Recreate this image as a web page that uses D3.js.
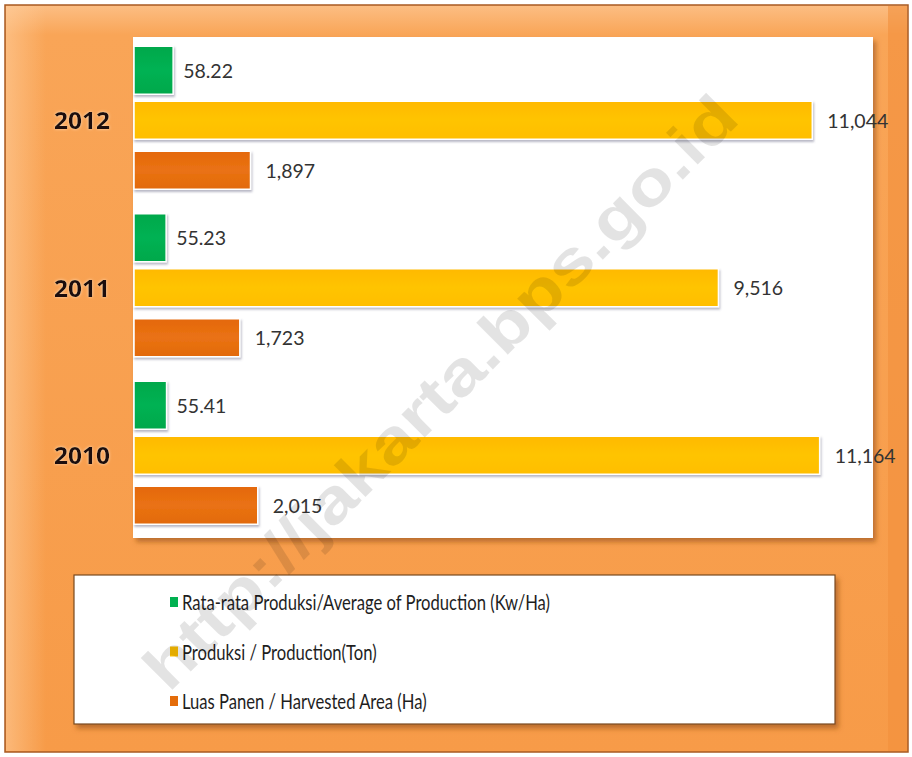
<!DOCTYPE html>
<html>
<head>
<meta charset="utf-8">
<script src="https://cdn.jsdelivr.net/npm/d3@7"></script>
<style>
  html, body { margin: 0; padding: 0; background: #ffffff; }
  svg { display: block; }
</style>
</head>
<body>
<svg id="chart" width="912" height="757"></svg>
<script>
// ---- data ----
const years = ["2012", "2011", "2010"];
const seriesKeys = ["avg", "prod", "area"];
const seriesNames = [
  "Rata-rata Produksi/Average of Production (Kw/Ha)",
  "Produksi / Production(Ton)",
  "Luas Panen / Harvested Area (Ha)"
];
const avgValues = [58.22, 55.23, 55.41];      // Kw/Ha (secondary scale)
const prodValues = [11044, 9516, 11164];      // Ton
const areaValues = [1897, 1723, 2015];        // Ha
const labelFormats = [d3.format(".2f"), d3.format(","), d3.format(",")];
const watermark = "http://jakarta.bps.go.id";

// ---- styles ----
const colors = { avg: "#00B050", prod: "#FFC000", area: "#E46C0A" };
const font = "Lato, 'Open Sans', 'DejaVu Sans', sans-serif";

const svg = d3.select("#chart");
const defs = svg.append("defs");

// gradients
const bg = defs.append("linearGradient").attr("id", "bgGrad").attr("x1", 0).attr("y1", 0).attr("x2", 0).attr("y2", 1);
bg.append("stop").attr("offset", "0%").attr("stop-color", "#FCBE84");
bg.append("stop").attr("offset", "4%").attr("stop-color", "#F9A557");
bg.append("stop").attr("offset", "100%").attr("stop-color", "#F79B48");

const bgL = defs.append("linearGradient").attr("id", "bgLeft").attr("x1", 0).attr("y1", 0).attr("x2", 1).attr("y2", 0);
bgL.append("stop").attr("offset", "0%").attr("stop-color", "#FFD0A0").attr("stop-opacity", 0.55);
bgL.append("stop").attr("offset", "100%").attr("stop-color", "#FFD0A0").attr("stop-opacity", 0);

function barGrad(id, c1, c2, c3) {
  const g = defs.append("linearGradient").attr("id", id).attr("x1", 0).attr("y1", 0).attr("x2", 0).attr("y2", 1);
  g.append("stop").attr("offset", "0%").attr("stop-color", c1);
  g.append("stop").attr("offset", "50%").attr("stop-color", c2);
  g.append("stop").attr("offset", "100%").attr("stop-color", c3);
}
barGrad("g_avg", "#00A84B", "#00B253", "#00A84B");
barGrad("g_prod", "#FFB900", "#FFC400", "#FFBE00");
barGrad("g_area", "#E4680A", "#EA7214", "#E26A08");

const shadow = defs.append("filter").attr("id", "shadow").attr("x", "-10%").attr("y", "-20%").attr("width", "130%").attr("height", "160%");
shadow.append("feDropShadow").attr("dx", 1).attr("dy", 2).attr("stdDeviation", 1.2).attr("flood-color", "#606080").attr("flood-opacity", 0.45);

const boxShadow = defs.append("filter").attr("id", "boxShadow").attr("x", "-5%").attr("y", "-5%").attr("width", "115%").attr("height", "115%");
boxShadow.append("feDropShadow").attr("dx", 3).attr("dy", 4).attr("stdDeviation", 2.5).attr("flood-color", "#8a4a10").attr("flood-opacity", 0.55);

const glow = defs.append("filter").attr("id", "glow").attr("x", "-20%").attr("y", "-30%").attr("width", "140%").attr("height", "160%");
glow.append("feGaussianBlur").attr("in", "SourceAlpha").attr("stdDeviation", 1.5).attr("result", "b");
glow.append("feFlood").attr("flood-color", "#FFE0C0").attr("flood-opacity", 0.9);
glow.append("feComposite").attr("in2", "b").attr("operator", "in").attr("result", "g");
const gm = glow.append("feMerge");
gm.append("feMergeNode").attr("in", "g");
gm.append("feMergeNode").attr("in", "SourceGraphic");

// ---- frame ----
svg.append("rect").attr("x", 5).attr("y", 5).attr("width", 903).attr("height", 747)
  .attr("fill", "url(#bgGrad)").attr("stroke", "#A85A22").attr("stroke-width", 1.5);
svg.append("rect").attr("x", 6).attr("y", 6).attr("width", 40).attr("height", 745).attr("fill", "url(#bgLeft)");
svg.append("rect").attr("x", 888).attr("y", 6).attr("width", 19).attr("height", 745).attr("fill", "#F28F3C").attr("opacity", 0.6);

// ---- plot area ----
const plot = { left: 133, right: 873, top: 37, bottom: 538 };
svg.append("rect").attr("x", plot.left).attr("y", plot.top)
  .attr("width", plot.right - plot.left).attr("height", plot.bottom - plot.top)
  .attr("fill", "#FFFFFF").attr("filter", "url(#boxShadow)");

// ---- scales ----
const x = d3.scaleLinear().domain([0, 12000]).range([134, 871]);
const xAvg = d3.scaleLinear().domain([41.5, 60]).range([134, 177.3]);
const y0 = d3.scaleBand().domain(years).range([36.5, 539]).paddingInner(0);
const y1 = d3.scaleBand().domain(seriesKeys).range([-69, 69]).paddingInner(0.24);

const rows = years.map((yr, i) => ({
  year: yr,
  values: [
    { key: "avg", v: avgValues[i], fmt: labelFormats[0], sx: xAvg, base: 41.5, extra: 10 },
    { key: "prod", v: prodValues[i], fmt: labelFormats[1], sx: x, base: 0, extra: 0 },
    { key: "area", v: areaValues[i], fmt: labelFormats[2], sx: x, base: 0, extra: 0 }
  ]
}));

const groups = svg.append("g").selectAll("g.grp").data(rows).join("g")
  .attr("class", "grp")
  .attr("transform", d => `translate(0,${y0(d.year) + y0.bandwidth() / 2})`);

groups.selectAll("rect.bar").data(d => d.values).join("rect")
  .attr("class", "bar")
  .attr("x", d => d.sx(d.base))
  .attr("y", d => y1(d.key) - d.extra / 2)
  .attr("width", d => d.sx(d.v) - d.sx(d.base))
  .attr("height", d => y1.bandwidth() + d.extra)
  .attr("fill", d => `url(#g_${d.key})`)
  .attr("stroke", "#FFFFFF").attr("stroke-width", 1.5)
  .attr("filter", "url(#shadow)");

groups.selectAll("text.lbl").data(d => d.values).join("text")
  .attr("class", "lbl")
  .attr("x", d => d.sx(d.v) + (d.key === "avg" ? 10 : 15))
  .attr("y", d => y1(d.key) + y1.bandwidth() / 2)
  .attr("dominant-baseline", "central")
  .attr("font-family", font).attr("font-size", 19.5)
  .attr("fill", "#333333")
  .text(d => d.fmt(d.v));

// category axis labels
svg.append("g").selectAll("text").data(years).join("text")
  .attr("x", 110)
  .attr("y", d => y0(d) + y0.bandwidth() / 2)
  .attr("text-anchor", "end")
  .attr("dominant-baseline", "central")
  .attr("font-family", "'Open Sans', 'Noto Sans', 'DejaVu Sans', sans-serif")
  .attr("font-weight", 700).attr("font-size", 23)
  .attr("fill", "#1A1008")
  .attr("filter", "url(#glow)")
  .attr("textLength", 56).attr("lengthAdjust", "spacingAndGlyphs")
  .text(d => d);

// ---- legend ----
const lg = { x: 74, y: 575, w: 761, h: 149 };
svg.append("rect").attr("x", lg.x).attr("y", lg.y).attr("width", lg.w).attr("height", lg.h)
  .attr("fill", "#FFFFFF").attr("stroke", "#7A4A20").attr("stroke-width", 1.2)
  .attr("filter", "url(#boxShadow)");

const legendY = d3.scalePoint().domain(seriesKeys).range([602, 701]);
const legendItems = svg.append("g").selectAll("g").data(seriesKeys.map((k, i) => ({ key: k, name: seriesNames[i] }))).join("g")
  .attr("transform", d => `translate(170,${legendY(d.key)})`);
legendItems.append("rect").attr("x", 0).attr("y", -5).attr("width", 8).attr("height", 10)
  .attr("fill", d => colors[d.key]);
const legendTexts = legendItems.append("text").attr("x", 12).attr("y", 0)
  .attr("dominant-baseline", "central")
  .attr("font-family", font).attr("font-size", 21.5).attr("fill", "#1E1E1E")
  .text(d => d.name);
// condense horizontally like the narrow original font (first entry ~368px wide)
const widths = legendTexts.nodes().map(n => n.getComputedTextLength());
const squeeze = 368 / widths[0];
legendTexts.each(function (d, i) {
  d3.select(this).attr("textLength", widths[i] * squeeze).attr("lengthAdjust", "spacingAndGlyphs");
});

// ---- watermark ----
svg.append("text")
  .attr("transform", "translate(440,392) rotate(-45)")
  .attr("text-anchor", "middle").attr("dominant-baseline", "central")
  .attr("font-family", "'Liberation Sans', Arial, sans-serif").attr("font-weight", 700)
  .attr("font-size", 62)
  .attr("fill", "#000").attr("fill-opacity", 0.11)
  .attr("textLength", 810).attr("lengthAdjust", "spacingAndGlyphs")
  .text(watermark);
</script>
</body>
</html>
